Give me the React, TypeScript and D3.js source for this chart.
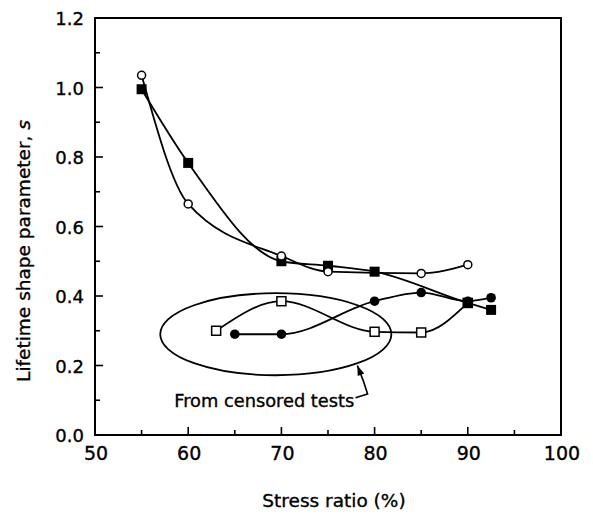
import React from "react";
import * as d3 from "d3";

const W = 593;
const H = 516;
const M = { left: 95, right: 593 - 561, top: 18, bottom: 516 - 435 };

const xTicks = [50, 60, 70, 80, 90, 100];
const xMinor = [55, 65, 75, 85, 95];
const yTicks = [0.0, 0.2, 0.4, 0.6, 0.8, 1.0, 1.2];
const yMinor = [0.1, 0.3, 0.5, 0.7, 0.9, 1.1];

const openCircleX = [55, 60, 70, 75, 85, 90];
const openCircleY = [1.035, 0.665, 0.515, 0.47, 0.465, 0.49];

const filledSquareX = [55, 60, 70, 75, 80, 90, 92.5];
const filledSquareY = [0.995, 0.783, 0.5, 0.487, 0.47, 0.38, 0.36];

const filledCircleX = [65, 70, 80, 85, 90, 92.5];
const filledCircleY = [0.29, 0.29, 0.385, 0.41, 0.385, 0.395];

const openSquareX = [63, 70, 80, 85, 90];
const openSquareY = [0.3, 0.385, 0.297, 0.295, 0.38];

const ellipseCenter = [69.4, 0.29];
const ellipseRadii = [12.4, 0.118];
const annotationText = "From censored tests";
const annotationAt = [58.5, 0.08];
const arrowPath = [
  [77.95, 0.107],
  [79.25, 0.118],
  [78.8, 0.155],
  [78.15, 0.2],
];

const FONT = "'DejaVu Sans', 'Liberation Sans', Arial, sans-serif";

export default function App() {
  const x = d3.scaleLinear().domain([50, 100]).range([M.left, W - M.right]);
  const y = d3.scaleLinear().domain([0, 1.2]).range([H - M.bottom, M.top]);
  const line = d3
    .line<[number, number]>()
    .x((d) => x(d[0]))
    .y((d) => y(d[1]))
    .curve(d3.curveMonotoneX);

  const zip = (xs: number[], ys: number[]) =>
    xs.map((v, i) => [v, ys[i]] as [number, number]);

  const oc = zip(openCircleX, openCircleY);
  const fs = zip(filledSquareX, filledSquareY);
  const fc = zip(filledCircleX, filledCircleY);
  const os = zip(openSquareX, openSquareY);

  const x0 = x(50), x1 = x(100), y0 = y(0), y1 = y(1.2);
  const arrowLine = d3
    .line<number[]>()
    .x((d) => x(d[0]))
    .y((d) => y(d[1]));
  const last = arrowPath[arrowPath.length - 1];
  const prev = arrowPath[arrowPath.length - 2];
  const ax = x(last[0]), ay = y(last[1]);
  const ang = Math.atan2(ay - y(prev[1]), ax - x(prev[0]));
  const hl = 10, hw = 3.5;
  const head = [
    [ax, ay],
    [ax - hl * Math.cos(ang) + hw * Math.sin(ang), ay - hl * Math.sin(ang) - hw * Math.cos(ang)],
    [ax - hl * Math.cos(ang) - hw * Math.sin(ang), ay - hl * Math.sin(ang) + hw * Math.cos(ang)],
  ];

  const ts = { stroke: "#000", strokeWidth: 0.35 };

  return (
    <svg
      width={W}
      height={H}
      style={{ position: "absolute", left: 0, top: 0, background: "#fff" }}
      fontFamily={FONT}
    >
      <rect x={0} y={0} width={W} height={H} fill="#fff" />
      {/* frame */}
      <path
        d={`M${x0},${y1}H${x1}V${y0}H${x0}Z`}
        fill="none"
        stroke="#000"
        strokeWidth={2}
      />
      {xTicks.map((t) => (
        <g key={"xt" + t}>
          <line x1={x(t)} x2={x(t)} y1={y0} y2={y0 - 8} stroke="#000" strokeWidth={1.6} />
          <text x={x(t) + 1} y={y0 + 25} fontSize={19} textAnchor="middle" {...ts}>
            {t}
          </text>
        </g>
      ))}
      {xMinor.map((t) => (
        <line key={"xm" + t} x1={x(t)} x2={x(t)} y1={y0} y2={y0 - 5} stroke="#000" strokeWidth={1.6} />
      ))}
      {yTicks.map((t) => (
        <g key={"yt" + t}>
          <line x1={x0} x2={x0 + 8} y1={y(t)} y2={y(t)} stroke="#000" strokeWidth={1.6} />
          <text
            x={x0 - 11}
            y={y(t) + 7}
            fontSize={18}
            textAnchor="end"
            {...ts}
          >
            {t.toFixed(1)}
          </text>
        </g>
      ))}
      {yMinor.map((t) => (
        <line key={"ym" + t} x1={x0} x2={x0 + 5} y1={y(t)} y2={y(t)} stroke="#000" strokeWidth={1.6} />
      ))}

      {/* axis labels */}
      <text x={334} y={507} fontSize={18.5} textAnchor="middle" {...ts}>
        Stress ratio (%)
      </text>
      <text
        transform={`translate(30,251) rotate(-90)`}
        fontSize={18.5}
        textAnchor="middle"
        {...ts}
      >
        Lifetime shape parameter, <tspan fontStyle="italic">s</tspan>
      </text>

      {/* ellipse annotation */}
      <ellipse
        cx={x(ellipseCenter[0])}
        cy={y(ellipseCenter[1])}
        rx={x(50 + ellipseRadii[0]) - x(50)}
        ry={y(0) - y(ellipseRadii[1])}
        fill="none"
        stroke="#000"
        strokeWidth={1.8}
      />
      <text x={x(annotationAt[0])} y={y(annotationAt[1])} fontSize={17.8} {...ts}>
        {annotationText}
      </text>
      <path d={arrowLine(arrowPath) || ""} fill="none" stroke="#000" strokeWidth={1.6} />
      <polygon points={head.map((p) => p.join(",")).join(" ")} fill="#000" />

      {/* series lines */}
      {[oc, fs, fc, os].map((s, i) => (
        <path key={"l" + i} d={line(s) || ""} fill="none" stroke="#000" strokeWidth={1.8} />
      ))}

      {/* markers */}
      {os.map((d, i) => (
        <rect key={"os" + i} x={x(d[0]) - 4.5} y={y(d[1]) - 4.5} width={9} height={9} fill="#fff" stroke="#000" strokeWidth={1.5} />
      ))}
      {fc.map((d, i) => (
        <circle key={"fc" + i} cx={x(d[0])} cy={y(d[1])} r={4.8} fill="#000" />
      ))}
      {fs.map((d, i) => (
        <rect key={"fs" + i} x={x(d[0]) - 5} y={y(d[1]) - 5} width={10} height={10} fill="#000" />
      ))}
      {oc.map((d, i) => (
        <circle key={"oc" + i} cx={x(d[0])} cy={y(d[1])} r={4} fill="#fff" stroke="#000" strokeWidth={1.5} />
      ))}
    </svg>
  );
}
